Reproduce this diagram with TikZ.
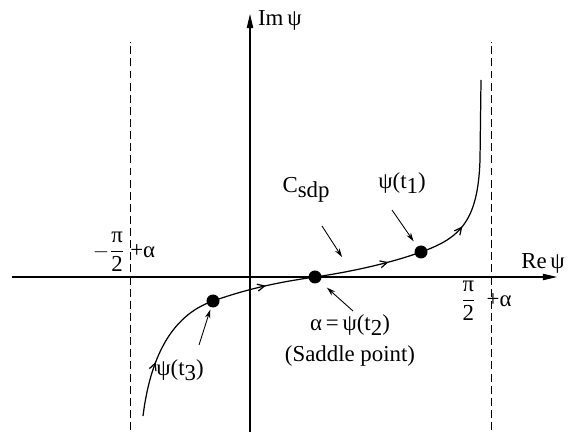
\documentclass[tikz,border=0pt]{standalone}
\usepackage{amsmath}
\usepackage{fontspec}
\setmainfont{Liberation Serif}
\usetikzlibrary{arrows.meta, positioning, decorations.markings}
\tikzset{
    axisline/.style={-{Triangle[length=8pt, width=3.6pt]}, line width=0.6pt},
    asymline/.style={dash pattern=on 4.5pt off 2.4pt, line width=0.5pt},
    sdpcurve/.style={line width=0.7pt, postaction={decorate}, decoration={markings,
        mark=at position 0.10 with {\arrow{Straight Barb[length=4pt, width=4pt]}},
        mark=at position 0.355 with {\arrow{Straight Barb[length=4pt, width=4pt]}},
        mark=at position 0.58 with {\arrow{Straight Barb[length=4pt, width=4pt]}},
        mark=at position 0.73 with {\arrow{Straight Barb[length=4pt, width=4pt]}}}},
    ptdot/.style={circle, fill=black, inner sep=0pt, minimum size=7.4pt},
    ptlabel/.style={font=\fontsize{13}{15}\selectfont, inner sep=1pt},
    ptarrow/.style={-{Stealth[length=5pt, width=3pt]}, line width=0.5pt}
}
\newcommand{\lowsub}[1]{\raisebox{-0.45ex}{#1}}

\begin{document}
\begin{tikzpicture}[x=0.02cm, y=-0.02cm]
\useasboundingbox (0,0) rectangle (571,435);

% axes and asymptotes
\coordinate (reL) at (12,277);
\coordinate (reR) at (557,277);
\coordinate (imB) at (250,432);
\coordinate (imT) at (250,14);
\coordinate (asLB) at (130,430);
\coordinate (asLT) at (130,42);
\coordinate (asRB) at (491,430);
\coordinate (asRT) at (491,42);
\draw[axisline] (reL) -- (reR);
\draw[axisline] (imB) -- (imT);
\draw[asymline] (asLB) -- (asLT);
\draw[asymline] (asRB) -- (asRT);

\node[ptlabel, anchor=west] (imlab) at (256,20) {Im\,ψ};
\node[ptlabel] (relab) at (543,263) {Re\,ψ};
\node[ptlabel] (leftlab) at (124,252) {$-\dfrac{\text{π}}{\text{2}}$\hspace{3pt}+α};
\node[ptlabel] (rightlab) at (486,301) {$\dfrac{\text{π}}{\text{2}}$\hspace{6pt}+α};

% steepest descent path
\node[ptdot] (t3dot) at (213,301) {};
\node[ptdot] (t2dot) at (315,277) {};
\node[ptdot] (t1dot) at (421,252) {};
\coordinate (cstart) at (143,416);
\coordinate (cend) at (481,80);
\draw[sdpcurve] (cstart) .. controls (150,360) and (170,316) .. (t3dot.center)
    .. controls (250,288) and (280,282) .. (t2dot.center)
    .. controls (350,272) and (391,263) .. (t1dot.center)
    .. controls (461,238) and (478,220) .. (480,160) -- (cend);

% labels
\node[ptlabel] (sdplab) at (306,190) {C\lowsub{sdp}};
\node[ptlabel] (t1lab) at (402,183) {ψ(t\lowsub{1})};
\node[ptlabel] (t2lab) at (350,325) {α\,=\,ψ(t\lowsub{2})};
\node[ptlabel] (saddlelab) at (350,356) {(Saddle point)};
\node[ptlabel] (t3lab) at (180,370) {ψ(t\lowsub{3})};

\coordinate (sdptail) at (322,226);
\coordinate (sdphead) at (342,257);
\coordinate (t1tail) at (392,210);
\coordinate (t2tail) at (353,311);
\coordinate (t3tail) at (199,345);
\draw[ptarrow] (sdptail) -- (sdphead);
\draw[ptarrow, shorten >=0.26cm] (t1tail) -- (t1dot.center);
\draw[ptarrow, shorten >=0.32cm] (t2tail) -- (t2dot.center);
\draw[ptarrow, shorten >=0.18cm] (t3tail) -- (t3dot.center);

\end{tikzpicture}
\end{document}
